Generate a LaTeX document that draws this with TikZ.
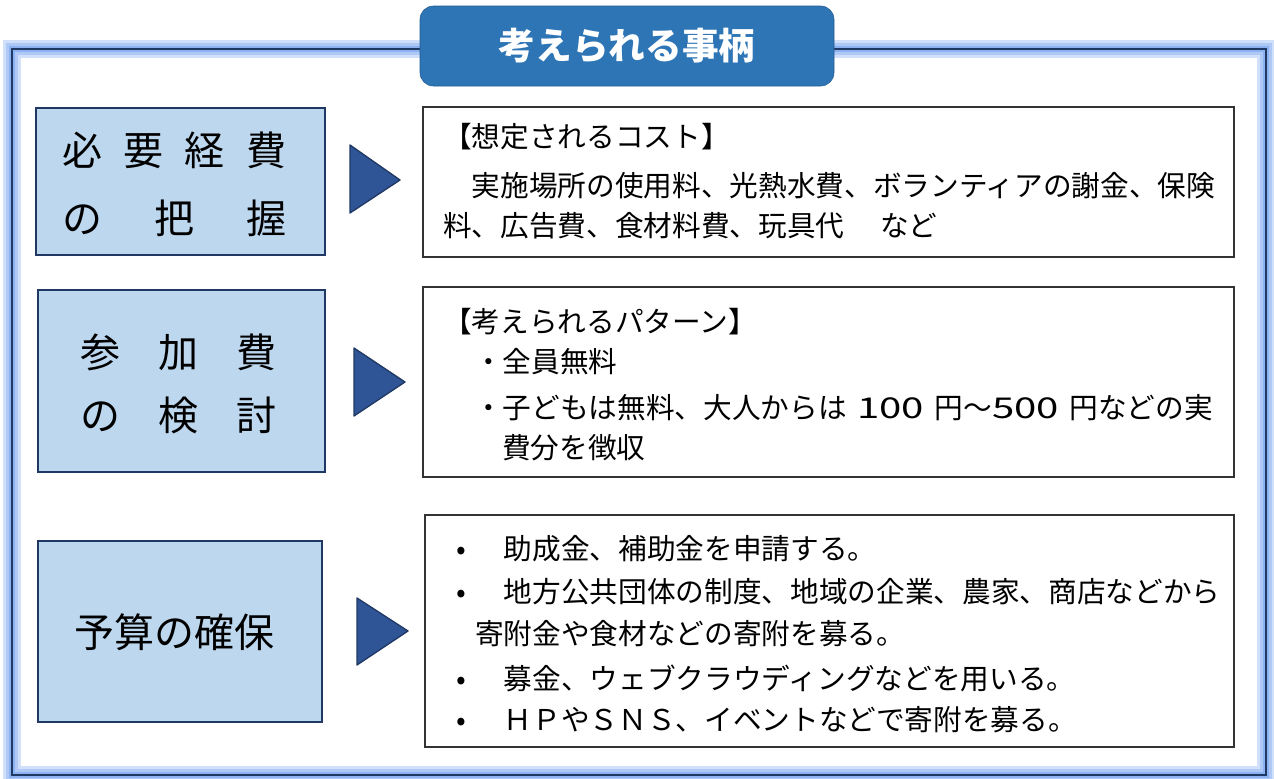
\documentclass[tikz,border=0pt]{standalone}
\usepackage{fontspec}
\setmainfont{Noto Sans CJK JP}
\usetikzlibrary{positioning,calc}
\definecolor{framenavy}{RGB}{32,56,100}
\definecolor{glowblue}{RGB}{140,178,242}
\definecolor{titleblue}{RGB}{46,117,182}
\definecolor{leftfill}{RGB}{189,215,238}
\definecolor{arrowblue}{RGB}{47,85,151}
\tikzstyle{every node}=[inner sep=0pt,outer sep=0pt]
\tikzstyle{leftbox}=[draw=framenavy,line width=1.8pt,fill=leftfill]
\tikzstyle{rightbox}=[draw=black!80,line width=1.1pt,fill=white]
\tikzstyle{pointer}=[fill=arrowblue,draw=framenavy,line width=1pt,line join=round]
\tikzstyle{body}=[font=\fontsize{21.5}{26}\selectfont,anchor=west]
\tikzstyle{head}=[font=\fontsize{30}{36}\selectfont]
\newcommand{\dotitem}[1]{\makebox[36pt][l]{•}#1}
\newcommand{\widenum}[1]{\hspace{8pt}\scalebox{1.4}[1]{#1}\hspace{8pt}}

\begin{document}
\begin{tikzpicture}[x=0.75pt,y=-0.75pt]
\useasboundingbox (0,0) rectangle (1274,778);

% outer frame with glow
\draw[glowblue!40,line width=14pt] (12,49) rectangle (1266,775);
\draw[glowblue!70,line width=9pt] (12,49) rectangle (1266,775);
\draw[glowblue,line width=5pt] (12,49) rectangle (1266,775);
\draw[framenavy,line width=2.2pt] (12,49) rectangle (1266,775);

\node[draw=titleblue!80!black,fill=titleblue,rounded corners=10pt,minimum width=310.5pt,minimum height=60pt,text=white,font=\bfseries\fontsize{27.5}{32}\selectfont] (title) at (627,46) {考えられる事柄};

% left column
\draw[leftbox] (36,108) rectangle (325,255);
\draw[leftbox] (38,290) rectangle (325,472);
\draw[leftbox] (38,541) rectangle (322,722);
\node[head] (need1) at (174,150) {\makebox[168pt]{必\hfill 要\hfill 経\hfill 費}};
\node[head] (need2) at (174,218) {\makebox[168pt]{の\hfill 把\hfill 握}};
\node[head] (fee1) at (178,352) {\makebox[147pt]{参\hfill 加\hfill 費}};
\node[head] (fee2) at (178,415) {\makebox[147pt]{の\hfill 検\hfill 討}};
\node[head] (fund) at (174,632) {予算の確保};

% pointers
\draw[pointer] (350,145) -- (400,180) -- (350,213) -- cycle;
\draw[pointer] (354,348) -- (405,382) -- (354,416) -- cycle;
\draw[pointer] (357,598) -- (408,631) -- (357,665) -- cycle;

% right column
\draw[rightbox] (423,107) rectangle (1234,257);
\draw[rightbox] (423,287) rectangle (1234,477);
\draw[rightbox] (425,515) rectangle (1234,747);

\node[body] (cost1) at (443,137) {【想定されるコスト】};
\node[body] (cost2) at (443,186) {　実施場所の使用料、光熱水費、ボランティアの謝金、保険};
\node[body] (cost3) at (443,226) {料、広告費、食材料費、玩具代\hspace{27pt}など};

\node[body] (pat1) at (443,322) {【考えられるパターン】};
\node[body] (pat2) at (474,362) {・全員無料};
\node[body] (pat3) at (474,408) {・子どもは無料、大人からは\widenum{100}円～\scalebox{1.4}[1]{500}\hspace{8pt}円などの実};
\node[body] (pat4) at (502,448) {費分を徴収};

\node[body] (way1) at (456,549) {\dotitem{助成金、補助金を申請する。}};
\node[body] (way2) at (456,592) {\dotitem{地方公共団体の制度、地域の企業、農家、商店などから}};
\node[body] (way3) at (475,634) {寄附金や食材などの寄附を募る。};
\node[body] (way4) at (456,678) {\dotitem{募金、ウェブクラウディングなどを用いる。}};
\node[body] (way5) at (456,720) {\dotitem{ＨＰやＳＮＳ、イベントなどで寄附を募る。}};
\end{tikzpicture}
\end{document}
